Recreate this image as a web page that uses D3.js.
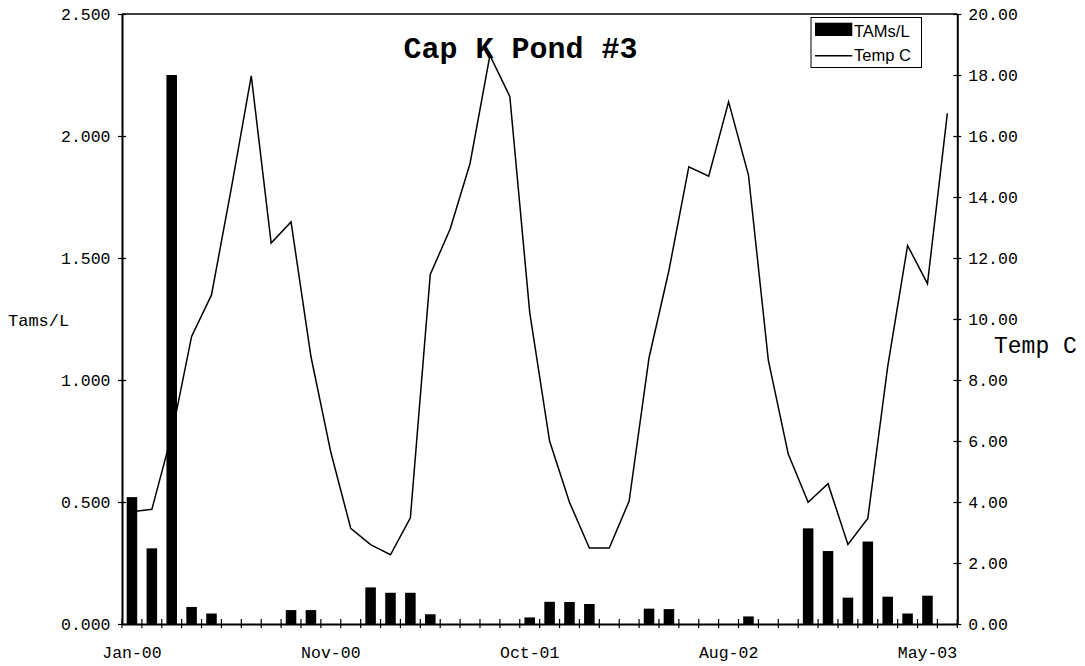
<!DOCTYPE html>
<html>
<head>
<meta charset="utf-8">
<script src="https://cdn.jsdelivr.net/npm/d3@7"></script>
<style>
  html, body { margin: 0; padding: 0; background: #fff; }
  svg { display: block; }
  .mono { font-family: "Courier New", "Liberation Mono", monospace; }
  .sans { font-family: Arial, "Liberation Sans", sans-serif; }
</style>
</head>
<body>
<svg id="chart" width="1085" height="666"></svg>
<script>
// Sampling dates (one entry per sample, irregular spacing)
const sampleLabels = [
  "Jan-00","Feb-00","Mar-00","Apr-00","May-00","Jun-00","Jul-00","Aug-00","Sep-00","Oct-00",
  "Nov-00","Dec-00","Jan-01","Feb-01","Mar-01","May-01","Jun-01","Jul-01","Aug-01","Sep-01",
  "Oct-01","Nov-01","Dec-01","Jan-02","Feb-02","Mar-02","Apr-02","May-02","Jun-02","Jul-02",
  "Aug-02","Sep-02","Oct-02","Nov-02","Dec-02","Jan-03","Feb-03","Mar-03","Mar-03","Apr-03",
  "May-03","Jun-03"
];

// TAMs per litre (bars, left axis)
const tamsPerL = [
  0.52, 0.31, 2.25, 0.07, 0.043, 0, 0, 0, 0.057, 0.057,
  0, 0, 0.15, 0.128, 0.128, 0.04, 0, 0, 0, 0,
  0.027, 0.091, 0.09, 0.082, 0, 0, 0.063, 0.061, 0, 0,
  0, 0.031, 0, 0, 0.392, 0.299, 0.108, 0.338, 0.112, 0.043,
  0.116, 0
];

// Water temperature in °C (line, right axis)
const tempC = [
  3.68, 3.76, 6.2, 9.43, 10.79, 14.3, 17.97, 12.49, 13.18, 8.77,
  5.63, 3.14, 2.6, 2.27, 3.48, 11.46, 12.95, 15.1, 18.64, 17.3,
  10.22, 6.0, 3.99, 2.49, 2.49, 4.03, 8.73, 11.59, 14.99, 14.68,
  17.12, 14.72, 8.64, 5.57, 3.99, 4.6, 2.61, 3.46, 8.44, 12.41,
  11.16, 16.74
];

const leftTicks = [0, 0.5, 1.0, 1.5, 2.0, 2.5];
const rightTicks = [0, 2, 4, 6, 8, 10, 12, 14, 16, 18, 20];
const labelEvery = [0, 10, 20, 30, 40];

const svg = d3.select("#chart");
const plot = { left: 122, right: 957.3, top: 14, bottom: 624 };

const x = d3.scaleBand()
  .domain(d3.range(sampleLabels.length))
  .range([plot.left, plot.right])
  .padding(0);
const yL = d3.scaleLinear().domain([0, 2.5]).range([plot.bottom, plot.top]);
const yR = d3.scaleLinear().domain([0, 20]).range([plot.bottom, plot.top]);

// Temperature line (drawn beneath the bars)
const line = d3.line()
  .x((d, i) => x(i) + x.bandwidth() / 2)
  .y(d => yR(d));
svg.append("path")
  .datum(tempC)
  .attr("d", line)
  .attr("fill", "none")
  .attr("stroke", "#000")
  .attr("stroke-width", 1.5)
  .attr("stroke-linejoin", "miter");

// TAMs bars
const barW = x.bandwidth() * 0.53;
svg.append("g")
  .selectAll("rect")
  .data(tamsPerL.map((v, i) => ({ v, i })).filter(d => d.v > 0))
  .join("rect")
  .attr("x", d => x(d.i) + (x.bandwidth() - barW) / 2)
  .attr("y", d => yL(d.v))
  .attr("width", barW)
  .attr("height", d => yL(0) - yL(d.v))
  .attr("fill", "#000");

// Top frame line
svg.append("line")
  .attr("x1", plot.left).attr("x2", plot.right)
  .attr("y1", plot.top).attr("y2", plot.top)
  .attr("stroke", "#000").attr("stroke-width", 1.5);

// Left axis
const axL = svg.append("g")
  .attr("class", "mono")
  .attr("transform", `translate(${plot.left},0)`)
  .call(d3.axisLeft(yL).tickValues(leftTicks).tickFormat(d3.format(".3f"))
    .tickSizeInner(4).tickSizeOuter(0).tickPadding(7.5));
axL.selectAll(".tick line").attr("x1", 4).attr("stroke-width", 1.2);
axL.select(".domain").attr("stroke-width", 2);
axL.selectAll("text").attr("font-size", "16.5px").attr("fill", "#000");

// Right axis
const axR = svg.append("g")
  .attr("class", "mono")
  .attr("transform", `translate(${plot.right},0)`)
  .call(d3.axisRight(yR).tickValues(rightTicks).tickFormat(d3.format(".2f"))
    .tickSizeInner(4).tickSizeOuter(0).tickPadding(7));
axR.selectAll(".tick line").attr("x1", -4).attr("stroke-width", 1.2);
axR.select(".domain").attr("stroke-width", 2);
axR.selectAll("text").attr("font-size", "16.5px").attr("fill", "#000");

// Bottom axis: labels at selected samples, tick marks on category boundaries
const axB = svg.append("g")
  .attr("class", "mono")
  .attr("transform", `translate(0,${plot.bottom})`)
  .call(d3.axisBottom(x).tickValues(labelEvery).tickFormat(i => sampleLabels[i])
    .tickSize(0).tickPadding(0));
axB.select(".domain").attr("stroke-width", 2);
axB.selectAll("text")
  .attr("font-size", "16.5px").attr("fill", "#000")
  .attr("y", 34).attr("dy", 0);

const boundaries = d3.range(sampleLabels.length + 1);
svg.append("g")
  .selectAll("line")
  .data(boundaries)
  .join("line")
  .attr("x1", i => i < sampleLabels.length ? x(i) : x.range()[1])
  .attr("x2", i => i < sampleLabels.length ? x(i) : x.range()[1])
  .attr("y1", plot.bottom - 5)
  .attr("y2", plot.bottom + 4)
  .attr("stroke", "#000")
  .attr("stroke-width", 1.2);

// Axis titles
svg.append("text").attr("class", "mono")
  .attr("x", 8).attr("y", 326)
  .attr("font-size", "17px")
  .text("Tams/L");
svg.append("text").attr("class", "mono")
  .attr("x", 994).attr("y", 353)
  .attr("font-size", "23px")
  .text("Temp C");

// Chart title
svg.append("text").attr("class", "mono")
  .attr("x", 520.5).attr("y", 58)
  .attr("text-anchor", "middle")
  .attr("font-size", "30px")
  .attr("font-weight", "bold")
  .text("Cap K Pond #3");

// Legend
const lg = svg.append("g").attr("class", "sans");
lg.append("rect")
  .attr("x", 811).attr("y", 17.5).attr("width", 110.5).attr("height", 50)
  .attr("fill", "#fff").attr("stroke", "#000").attr("stroke-width", 1);
lg.append("rect")
  .attr("x", 815).attr("y", 22.7).attr("width", 37.3).attr("height", 13.3)
  .attr("fill", "#000");
lg.append("text").attr("x", 854).attr("y", 36.5)
  .attr("font-size", "16.5px").text("TAMs/L");
lg.append("line")
  .attr("x1", 815).attr("x2", 852.3).attr("y1", 55.7).attr("y2", 55.7)
  .attr("stroke", "#000").attr("stroke-width", 1.5);
lg.append("text").attr("x", 854).attr("y", 60.5)
  .attr("font-size", "16.5px").text("Temp C");
</script>
</body>
</html>
